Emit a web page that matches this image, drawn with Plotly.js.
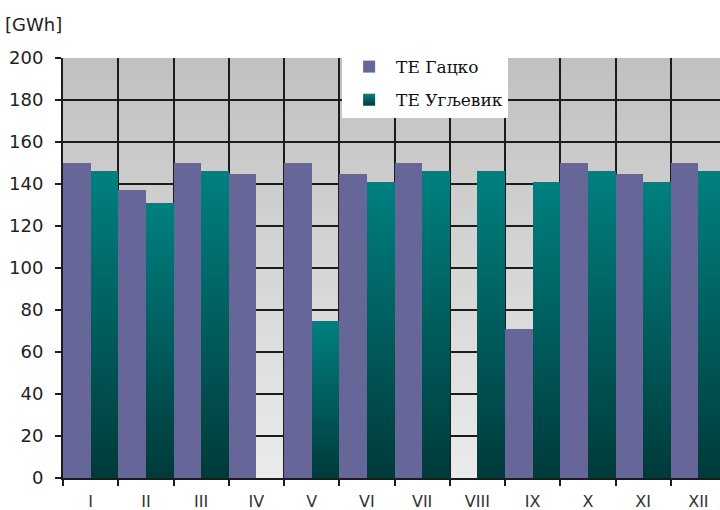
<!DOCTYPE html>
<html><head><meta charset="utf-8">
<script src="https://cdn.plot.ly/plotly-3.0.1.min.js"></script>
<style>html,body{margin:0;padding:0;overflow:hidden;background:#fff}#chart{width:732px;height:510px}</style>
</head><body><div id="chart"></div>
<script>
const months = ['I','II','III','IV','V','VI','VII','VIII','IX','X','XI','XII'];
const gackoValues = [150,137,150,145,150,145,150,0,71,150,145,150];
const ugljevikValues = [146,131,146,0,75,141,146,146,141,146,141,146];
const seriesNames = ['ТЕ Гацко','ТЕ Угљевик'];
const yTickValues = [0,20,40,60,80,100,120,140,160,180,200];
const yGridValues = [20,40,60,80,100,120,140,160,180];
const unitLabel = '[GWh]';

const gridCol = '#1c1c1c';
const bgSvg = '<svg xmlns="http://www.w3.org/2000/svg" width="10" height="100" preserveAspectRatio="none"><defs><linearGradient id="g" x1="0" y1="0" x2="0" y2="1"><stop offset="0" stop-color="#c0c0c0"/><stop offset="1" stop-color="#ebebeb"/></linearGradient></defs><rect width="10" height="100" fill="url(#g)"/></svg>';

const traces = [
  {type:'bar', x:months, y:gackoValues, name:seriesNames[0], legendgroup:'a',
   marker:{color:'#666699', line:{width:0}}, hoverinfo:'none'},
  {type:'bar', x:months, y:ugljevikValues, name:seriesNames[1], legendgroup:'b',
   marker:{color:'#006666', line:{width:0}}, hoverinfo:'none'}
];

const layout = {
  width:732, height:510,
  margin:{l:63, r:6, t:58, b:32},
  paper_bgcolor:'#ffffff', plot_bgcolor:'rgba(0,0,0,0)',
  barmode:'group', bargap:0, bargroupgap:0,
  showlegend:true,
  legend:{x:0.421, xanchor:'left', y:0.857, yanchor:'bottom', bgcolor:'#ffffff',
    borderwidth:0, tracegroupgap:8, itemwidth:44,
    font:{family:'DejaVu Serif', size:17, color:'#111'}},
  xaxis:{type:'category', range:[-0.5, 11.5], tickson:'boundaries',
    showgrid:true, gridcolor:gridCol, gridwidth:2,
    ticks:'outside', ticklen:6, tickwidth:2, tickcolor:gridCol,
    showline:true, linecolor:gridCol, linewidth:2, ticklabelstandoff:8,
    tickfont:{family:'DejaVu Sans', size:16, color:'#333'}, fixedrange:true},
  yaxis:{range:[0,200], tickmode:'array', tickvals:yTickValues,
    showgrid:false, zeroline:false,
    minor:{tickmode:'array', tickvals:yGridValues, showgrid:true, gridcolor:gridCol, gridwidth:2, ticks:''},
    ticks:'outside', ticklen:6, tickwidth:2, tickcolor:gridCol,
    showline:true, linecolor:gridCol, linewidth:2, ticklabelstandoff:8,
    tickfont:{family:'DejaVu Sans', size:18, color:'#222'}, fixedrange:true},
  images:[{source:'data:image/svg+xml;utf8,' + encodeURIComponent(bgSvg),
    xref:'paper', yref:'paper', x:0, y:1, sizex:1, sizey:1,
    xanchor:'left', yanchor:'top', sizing:'stretch', layer:'below'}],
  annotations:[{text:unitLabel, xref:'paper', yref:'paper', x:-0.09, y:1.079,
    xanchor:'left', yanchor:'middle', showarrow:false,
    font:{family:'DejaVu Sans', size:18, color:'#222'}}]
};

Plotly.newPlot('chart', traces, layout, {displayModeBar:false, staticPlot:true}).then(gd => {
  const svg = gd.querySelector('svg.main-svg');
  const ns = 'http://www.w3.org/2000/svg';
  let defs = svg.querySelector('defs');
  if (!defs) { defs = document.createElementNS(ns,'defs'); svg.insertBefore(defs, svg.firstChild); }
  const lg = document.createElementNS(ns,'linearGradient');
  lg.setAttribute('id','tealGrad'); lg.setAttribute('x1','0'); lg.setAttribute('y1','0');
  lg.setAttribute('x2','0'); lg.setAttribute('y2','1');
  [['0','#008080'],['1','#003a3a']].forEach(([o,c]) => {
    const s = document.createElementNS(ns,'stop'); s.setAttribute('offset',o); s.setAttribute('stop-color',c); lg.appendChild(s);
  });
  defs.appendChild(lg);
  const barTraces = gd.querySelectorAll('.barlayer .trace');
  if (barTraces[1]) barTraces[1].querySelectorAll('path').forEach(p => { p.style.fill = 'url(#tealGrad)'; });
  const legTraces = gd.querySelectorAll('.legend .traces');
  if (legTraces[1]) legTraces[1].querySelectorAll('.legendpoints path').forEach(p => { p.style.fill = 'url(#tealGrad)'; });
});
</script></body></html>
